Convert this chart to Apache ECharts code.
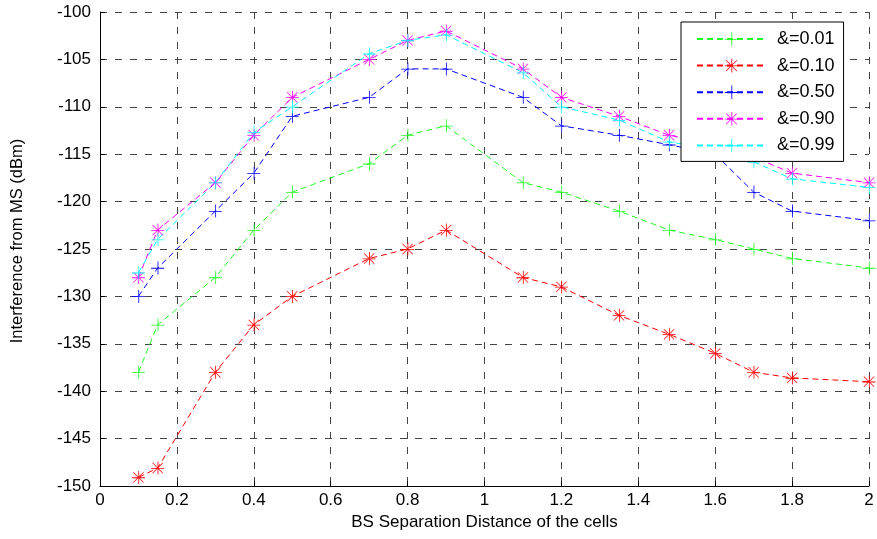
<!DOCTYPE html>
<html>
<head>
	<title>Interference vs BS separation</title>
	<meta charset="utf-8">
	<script src="https://cdn.jsdelivr.net/npm/echarts@6/dist/echarts.min.js"></script>
	<style>
		body { margin: 0; background: #fff; }
	</style>
</head>
<body>
	<div id="chart" style="width: 877px;height: 539px;"></div>

<script>
	// distances (x) shared by all series
	var distance = [0.1, 0.15, 0.3, 0.4, 0.5, 0.7, 0.8, 0.9, 1.1, 1.2, 1.35, 1.48, 1.6, 1.7, 1.8, 2.0];

	var names = ['&=0.01', '&=0.10', '&=0.50', '&=0.90', '&=0.99'];

	var a001 = [-138, -133, -128, -123, -119, -116, -113, -112, -118, -119, -121, -123, -124, -125, -126, -127];
	var a010 = [-149.1, -148.1, -138, -133, -130, -126, -125, -123, -128, -129, -132, -134, -136, -138, -138.6, -139];
	var a050 = [-130, -127, -121, -117, -111, -109, -106, -106, -109, -112, -113, -114, -115, -119, -121, -122];
	var a090 = [-128, -123, -118, -113, -109, -105, -103, -102, -106, -109, -111, -113, -114, -115.3, -117, -118];
	var a099 = [-127.5, -124, -118, -112.7, -110, -104.4, -103, -102.4, -106.4, -110, -111.4, -113.7, -114.5, -115.8, -117.6, -118.5];

	var colors = ['#22ff22', '#ff0000', '#0000ff', '#ff00ff', '#00ffff'];

	// marker shapes ('+' and '*')
	var plusPath = 'path://M0,6.4H13V7.2H0Z M6.4,0H7.2V13H6.4Z';
	var starPath = 'path://M0,6.4H13V7.2H0Z M6.4,0H7.2V13H6.4Z M1.6,1.1L11.9,11.4L11.4,11.9L1.1,1.6Z M11.4,1.1L11.9,1.6L1.6,11.9L1.1,11.4Z';
	var markers = [plusPath, starPath, plusPath, starPath, plusPath];

	function pairs(ys) {
		var out = [];
		for (var i = 0; i < distance.length; i++) {
			out.push([distance[i], ys[i]]);
		}
		return out;
	}

	var allData = [a001, a010, a050, a090, a099];
	var series = [];
	for (var k = 0; k < allData.length; k++) {
		series.push({
			name: names[k],
			type: 'line',
			data: pairs(allData[k]),
			symbol: markers[k],
			symbolSize: 13,
			symbolKeepAspect: true,
			showAllSymbol: true,
			itemStyle: { color: colors[k] },
			lineStyle: { color: colors[k], width: 1, type: [6, 4] },
			animation: false
		});
	}

	var font = 'Liberation Sans';
	var gridLine = { show: true, lineStyle: { color: '#444', width: 1, type: [7, 8] } };

	var option = {
		backgroundColor: '#fff',
		animation: false,
		grid: { left: 100, right: 8, top: 12, bottom: 53 },
		legend: {
			orient: 'vertical',
			left: 681,
			top: 22,
			data: names,
			itemWidth: 69,
			itemHeight: 17,
			itemGap: 8.6,
			padding: [8, 9, 7, 15],
			borderColor: '#000',
			borderWidth: 1,
			backgroundColor: '#fff',
			textStyle: { fontFamily: font, fontSize: 18, color: '#000', padding: [0, 0, 0, 6] }
		},
		xAxis: {
			type: 'value',
			min: 0,
			max: 2,
			interval: 0.2,
			name: 'BS Separation Distance of the cells',
			nameLocation: 'middle',
			nameGap: 28,
			nameTextStyle: { fontFamily: font, fontSize: 17, color: '#000' },
			axisLine: { lineStyle: { color: '#000' } },
			axisTick: { inside: true, length: 5, lineStyle: { color: '#000' } },
			axisLabel: { fontFamily: font, fontSize: 17, color: '#000', margin: 6 },
			splitLine: gridLine
		},
		yAxis: {
			type: 'value',
			min: -150,
			max: -100,
			interval: 5,
			name: 'Interference from MS (dBm)',
			nameLocation: 'middle',
			nameGap: 74,
			nameTextStyle: { fontFamily: font, fontSize: 16.5, color: '#000', padding: [0, 0, 0, 16] },
			axisLine: { show: true, lineStyle: { color: '#000' } },
			axisTick: { show: true, inside: true, length: 5, lineStyle: { color: '#000' } },
			axisLabel: { fontFamily: font, fontSize: 17, color: '#000', margin: 9 },
			splitLine: gridLine
		},
		series: series
	};

	var chart = echarts.init(document.getElementById('chart'));
	chart.setOption(option);
</script>
</body>
</html>
